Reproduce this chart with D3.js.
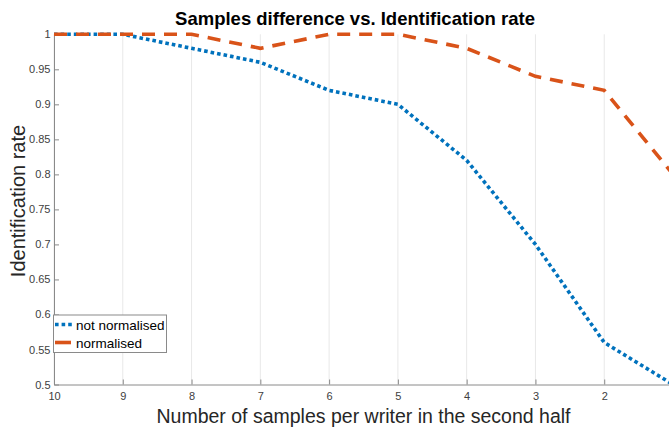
<!DOCTYPE html>
<html><head><meta charset="utf-8">
<script src="https://cdn.jsdelivr.net/npm/d3@7"></script>
<style>body{margin:0;background:#fff}svg{display:block;font-family:"Liberation Sans",Arial,sans-serif}</style>
</head><body>
<svg id="c" width="669" height="427"></svg>
<script>
const samples = [10, 9, 8, 7, 6, 5, 4, 3, 2, 1];
const notNormalised = [1.00, 1.00, 0.98, 0.96, 0.92, 0.90, 0.82, 0.70, 0.56, 0.50];
const normalised = [1.00, 1.00, 1.00, 0.98, 1.00, 1.00, 0.98, 0.94, 0.92, 0.80];
const yTicks = [0.5, 0.55, 0.6, 0.65, 0.7, 0.75, 0.8, 0.85, 0.9, 0.95, 1];
const seriesNames = ["not normalised", "normalised"];
const colors = ["#0072BD", "#D95319"];

const svg = d3.select("#c");
const L = 54, R = 673, T = 34.3, B = 384.5;
const x = d3.scaleLinear().domain([10, 1]).range([L, R]);
const y = d3.scaleLinear().domain([0.5, 1]).range([B, T]);

// grid
svg.append("g").selectAll("line").data(samples).join("line")
  .attr("x1", d => x(d)).attr("x2", d => x(d)).attr("y1", T).attr("y2", B)
  .attr("stroke", "#e8e8e8").attr("stroke-width", 1);

// axes
const xAxis = svg.append("g").attr("transform", `translate(0,${B})`)
  .call(d3.axisBottom(x).tickValues(samples).tickFormat(d3.format("d")).tickSizeInner(-5).tickSizeOuter(0).tickPadding(8));
const yAxis = svg.append("g").attr("transform", `translate(${L},0)`)
  .call(d3.axisLeft(y).tickValues(yTicks).tickFormat(d => String(+d.toFixed(2))).tickSizeInner(-5).tickSizeOuter(0).tickPadding(3.5));
[xAxis, yAxis].forEach(a => {
  a.select(".domain").attr("stroke", "#8a8a8a");
  a.selectAll(".tick line").attr("stroke", "#8a8a8a");
  a.selectAll(".tick text").attr("fill", "#404040").style("font-size", "11px").style("font-family", "Liberation Sans, Arial, sans-serif");
});

// lines
const line = d3.line().x((d, i) => x(samples[i])).y(d => y(d));
svg.append("path").datum(notNormalised).attr("d", line).attr("fill", "none")
  .attr("stroke", colors[0]).attr("stroke-width", 3.6).attr("stroke-dasharray", "3.6 3");
svg.append("path").datum(normalised).attr("d", line).attr("fill", "none")
  .attr("stroke", colors[1]).attr("stroke-width", 3.6).attr("stroke-dasharray", "13 9");

// title and labels
svg.append("text").attr("x", 355).attr("y", 25).attr("text-anchor", "middle")
  .style("font-weight", "bold").style("font-size", "18.5px").attr("fill", "#000")
  .text("Samples difference vs. Identification rate");
svg.append("text").attr("x", 363.5).attr("y", 423).attr("text-anchor", "middle")
  .style("font-size", "19.5px").attr("fill", "#262626")
  .text("Number of samples per writer in the second half");
svg.append("text").attr("transform", "translate(25,201) rotate(-90)").attr("text-anchor", "middle")
  .style("font-size", "20px").attr("fill", "#262626")
  .text("Identification rate");

// legend
const lg = svg.append("g");
lg.append("rect").attr("x", 53.5).attr("y", 315).attr("width", 113).attr("height", 37.5)
  .attr("fill", "#fff").attr("stroke", "#8a8a8a").attr("stroke-width", 1);
seriesNames.forEach((n, i) => {
  const yy = 324.5 + i * 18;
  lg.append("line").attr("x1", 55).attr("x2", i === 0 ? 74 : 71).attr("y1", yy).attr("y2", yy)
    .attr("stroke", colors[i]).attr("stroke-width", 3.6)
    .attr("stroke-dasharray", i === 0 ? "3.6 3" : null);
  lg.append("text").attr("x", 76).attr("y", yy + 5).style("font-size", "13.5px").attr("fill", "#000").text(n);
});
</script>
</body></html>
